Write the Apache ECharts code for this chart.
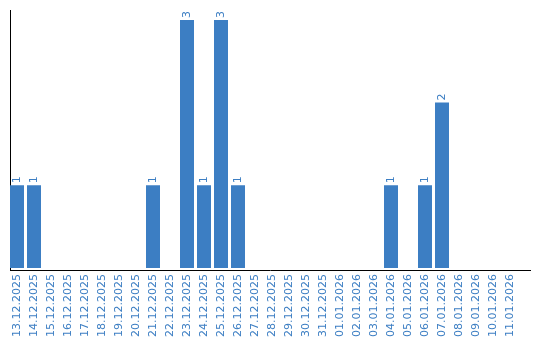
<!DOCTYPE html>
<html><head><meta charset="utf-8">
<script src="https://cdn.jsdelivr.net/npm/echarts@6/dist/echarts.min.js"></script>
<style>html,body{margin:0;padding:0;background:#fff}#c{width:540px;height:340px}</style>
</head><body><div id="c"></div>
<script>
const categories = ["13.12.2025","14.12.2025","15.12.2025","16.12.2025","17.12.2025","18.12.2025","19.12.2025","20.12.2025","21.12.2025","22.12.2025","23.12.2025","24.12.2025","25.12.2025","26.12.2025","27.12.2025","28.12.2025","29.12.2025","30.12.2025","31.12.2025","01.01.2026","02.01.2026","03.01.2026","04.01.2026","05.01.2026","06.01.2026","07.01.2026","08.01.2026","09.01.2026","10.01.2026","11.01.2026"];
const values = [1,1,0,0,0,0,0,0,1,0,3,1,3,1,0,0,0,0,0,0,0,0,1,0,1,2,0,0,0,0];
const blue = '#3c7ec3';
const chart = echarts.init(document.getElementById('c'));
chart.setOption({
  animation: false,
  grid: {left: 8.5, top: 10, width: 510, height: 260, containLabel: false},
  xAxis: {
    type: 'category', data: categories,
    axisLine: {show: false},
    axisTick: {show: false},
    axisLabel: {rotate: 90, color: blue, fontFamily: 'DejaVu Sans', fontSize: 11, margin: 6, interval: 0}
  },
  yAxis: {
    type: 'value', min: 0, max: 3.12,
    axisLine: {show: false},
    axisTick: {show: false}, axisLabel: {show: false}, splitLine: {show: false}
  },
  graphic: [
    {type: 'line', z: 0, shape: {x1: 10.5, y1: 10, x2: 10.5, y2: 271}, style: {stroke: '#000', lineWidth: 1}},
    {type: 'line', z: 0, shape: {x1: 10, y1: 270.5, x2: 531, y2: 270.5}, style: {stroke: '#000', lineWidth: 1}}
  ],
  series: [{
    type: 'bar', data: values.map(v => v === 0 ? null : v), barWidth: 14, z: 10,
    itemStyle: {color: blue},
    label: {show: true, position: 'top', rotate: 90, align: 'left', verticalAlign: 'middle', distance: 2,
      color: blue, fontFamily: 'DejaVu Sans', fontSize: 11}
  }]
});
</script></body></html>
